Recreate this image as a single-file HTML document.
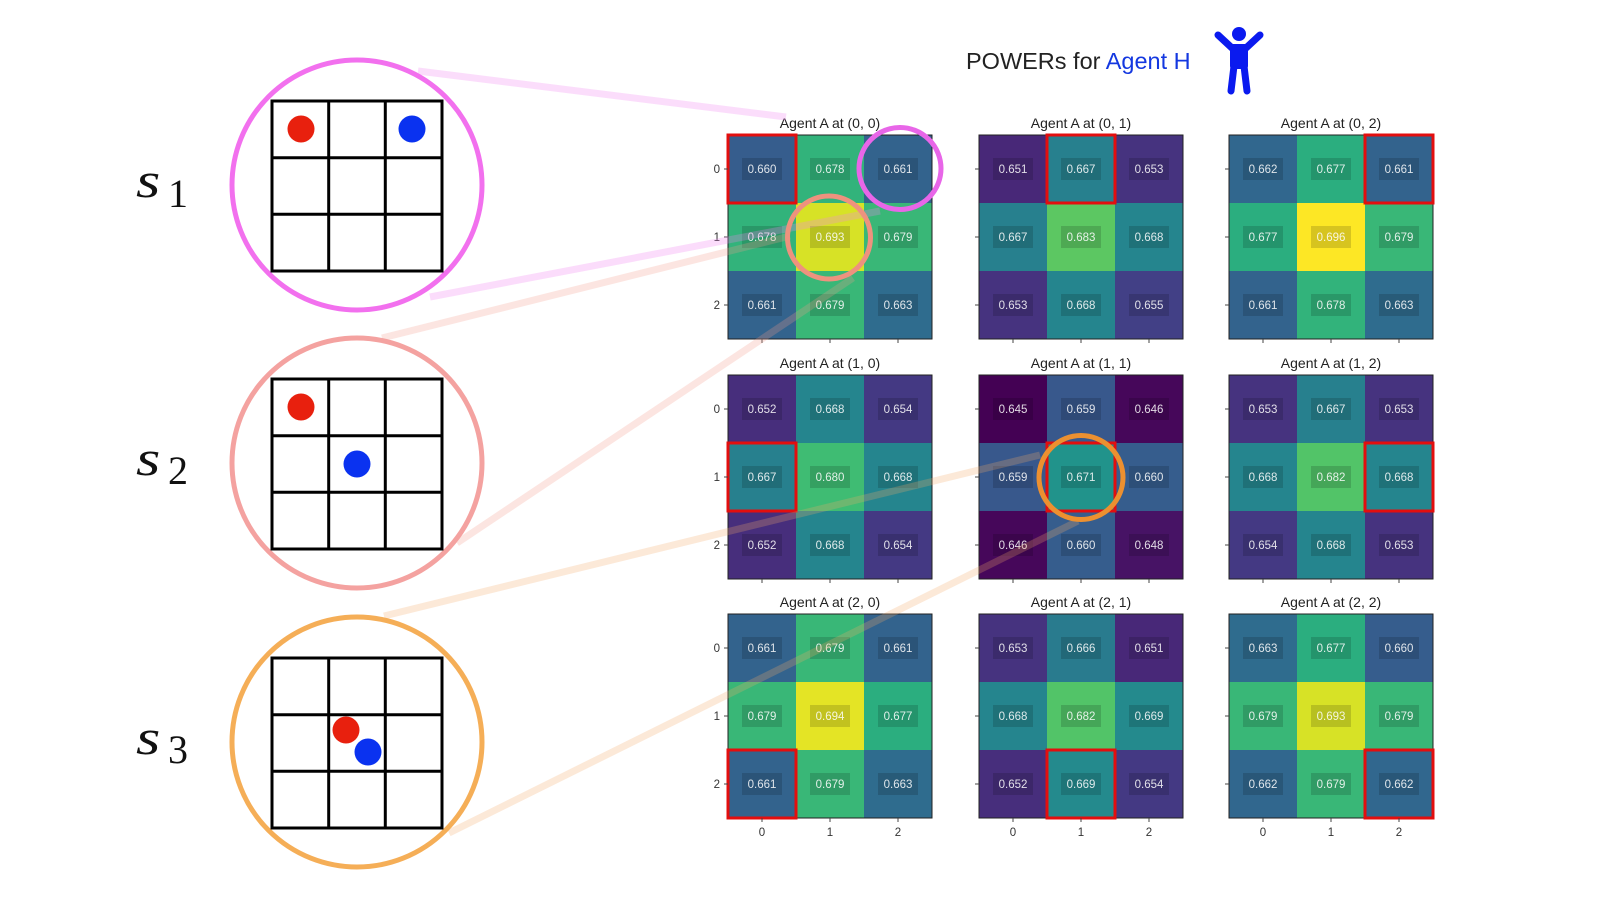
<!DOCTYPE html>
<html>
<head>
<meta charset="utf-8">
<style>
  html, body { margin: 0; padding: 0; background: #ffffff; }
  svg { display: block; }
  .v { font-family: "Liberation Sans", sans-serif; font-size: 11.5px; fill: rgba(255,255,255,0.85); text-anchor: middle; }
  .t { font-family: "Liberation Sans", sans-serif; font-size: 14px; fill: #222; text-anchor: middle; }
  .k { font-family: "Liberation Sans", sans-serif; font-size: 11.5px; fill: #333; }
  .ke { text-anchor: end; }
  .km { text-anchor: middle; }
  .hl { fill: none; stroke: #e30e0e; stroke-width: 3; }
  .bd { fill: none; stroke: #222; stroke-width: 1; }
  .sl { font-family: "Liberation Serif", serif; font-style: italic; fill: #111; }
  .sn { font-family: "Liberation Serif", serif; fill: #111; }
</style>
</head>
<body>
<svg width="1600" height="900" viewBox="0 0 1600 900" xmlns="http://www.w3.org/2000/svg">
  <defs>
    <g id="bx" fill="#000" fill-opacity="0.15">
      <rect x="14" y="23" width="40" height="22"/>
      <rect x="82" y="23" width="40" height="22"/>
      <rect x="150" y="23" width="40" height="22"/>
      <rect x="14" y="91" width="40" height="22"/>
      <rect x="82" y="91" width="40" height="22"/>
      <rect x="150" y="91" width="40" height="22"/>
      <rect x="14" y="159" width="40" height="22"/>
      <rect x="82" y="159" width="40" height="22"/>
      <rect x="150" y="159" width="40" height="22"/>
    </g>
    <g id="tk" stroke="#444" stroke-width="1">
      <line x1="-4" y1="34" x2="0" y2="34"/>
      <line x1="-4" y1="102" x2="0" y2="102"/>
      <line x1="-4" y1="170" x2="0" y2="170"/>
      <line x1="34" y1="204" x2="34" y2="208"/>
      <line x1="102" y1="204" x2="102" y2="208"/>
      <line x1="170" y1="204" x2="170" y2="208"/>
    </g>
  </defs>

  <!-- Title -->
  <text x="966" y="69" font-family="Liberation Sans, sans-serif" font-size="23.5" fill="#222">POWERs for <tspan fill="#1438e0">Agent H</tspan></text>
  <!-- person icon -->
  <g fill="#0a1aef" stroke="#0a1aef">
    <circle cx="1239" cy="34" r="7" stroke="none"/>
    <path d="M1218,35 L1232,48 L1246,48 L1260,35" fill="none" stroke-width="7" stroke-linecap="round" stroke-linejoin="round"/>
    <rect x="1230" y="44" width="18" height="25" rx="3" stroke="none"/>
    <line x1="1234" y1="66" x2="1231" y2="91" stroke-width="7" stroke-linecap="round"/>
    <line x1="1244" y1="66" x2="1247" y2="91" stroke-width="7" stroke-linecap="round"/>
  </g>

  <!-- ===== Heatmaps ===== -->
  <!-- (0,0) -->
  <g transform="translate(728,135)">
    <text class="t" x="102" y="-7">Agent A at (0, 0)</text>
    <rect x="0" y="0" width="68" height="68" fill="#365d8d"/>
    <rect x="68" y="0" width="68" height="68" fill="#32b37b"/>
    <rect x="136" y="0" width="68" height="68" fill="#33638d"/>
    <rect x="0" y="68" width="68" height="68" fill="#32b37b"/>
    <rect x="68" y="68" width="68" height="68" fill="#d7e226"/>
    <rect x="136" y="68" width="68" height="68" fill="#39b777"/>
    <rect x="0" y="136" width="68" height="68" fill="#33638d"/>
    <rect x="68" y="136" width="68" height="68" fill="#39b777"/>
    <rect x="136" y="136" width="68" height="68" fill="#2f6c8e"/>
    <use href="#bx"/>
    <text class="v" x="34" y="38">0.660</text><text class="v" x="102" y="38">0.678</text><text class="v" x="170" y="38">0.661</text>
    <text class="v" x="34" y="106">0.678</text><text class="v" x="102" y="106">0.693</text><text class="v" x="170" y="106">0.679</text>
    <text class="v" x="34" y="174">0.661</text><text class="v" x="102" y="174">0.679</text><text class="v" x="170" y="174">0.663</text>
    <rect class="bd" x="0" y="0" width="204" height="204"/>
    <rect class="hl" x="0" y="0" width="68" height="68"/>
    <use href="#tk"/>
    <text class="k ke" x="-8" y="38">0</text><text class="k ke" x="-8" y="106">1</text><text class="k ke" x="-8" y="174">2</text>
  </g>

  <!-- (0,1) -->
  <g transform="translate(979,135)">
    <text class="t" x="102" y="-7">Agent A at (0, 1)</text>
    <rect x="0" y="0" width="68" height="68" fill="#482878"/>
    <rect x="68" y="0" width="68" height="68" fill="#27808e"/>
    <rect x="136" y="0" width="68" height="68" fill="#46337f"/>
    <rect x="0" y="68" width="68" height="68" fill="#27808e"/>
    <rect x="68" y="68" width="68" height="68" fill="#5cc762"/>
    <rect x="136" y="68" width="68" height="68" fill="#25858e"/>
    <rect x="0" y="136" width="68" height="68" fill="#46337f"/>
    <rect x="68" y="136" width="68" height="68" fill="#25858e"/>
    <rect x="136" y="136" width="68" height="68" fill="#424086"/>
    <use href="#bx"/>
    <text class="v" x="34" y="38">0.651</text><text class="v" x="102" y="38">0.667</text><text class="v" x="170" y="38">0.653</text>
    <text class="v" x="34" y="106">0.667</text><text class="v" x="102" y="106">0.683</text><text class="v" x="170" y="106">0.668</text>
    <text class="v" x="34" y="174">0.653</text><text class="v" x="102" y="174">0.668</text><text class="v" x="170" y="174">0.655</text>
    <rect class="bd" x="0" y="0" width="204" height="204"/>
    <rect class="hl" x="68" y="0" width="68" height="68"/>
    <use href="#tk"/>
  </g>

  <!-- (0,2) -->
  <g transform="translate(1229,135)">
    <text class="t" x="102" y="-7">Agent A at (0, 2)</text>
    <rect x="0" y="0" width="68" height="68" fill="#31678e"/>
    <rect x="68" y="0" width="68" height="68" fill="#2bae7f"/>
    <rect x="136" y="0" width="68" height="68" fill="#33638d"/>
    <rect x="0" y="68" width="68" height="68" fill="#2bae7f"/>
    <rect x="68" y="68" width="68" height="68" fill="#fde725"/>
    <rect x="136" y="68" width="68" height="68" fill="#39b777"/>
    <rect x="0" y="136" width="68" height="68" fill="#33638d"/>
    <rect x="68" y="136" width="68" height="68" fill="#32b37b"/>
    <rect x="136" y="136" width="68" height="68" fill="#2f6c8e"/>
    <use href="#bx"/>
    <text class="v" x="34" y="38">0.662</text><text class="v" x="102" y="38">0.677</text><text class="v" x="170" y="38">0.661</text>
    <text class="v" x="34" y="106">0.677</text><text class="v" x="102" y="106">0.696</text><text class="v" x="170" y="106">0.679</text>
    <text class="v" x="34" y="174">0.661</text><text class="v" x="102" y="174">0.678</text><text class="v" x="170" y="174">0.663</text>
    <rect class="bd" x="0" y="0" width="204" height="204"/>
    <rect class="hl" x="136" y="0" width="68" height="68"/>
    <use href="#tk"/>
  </g>

  <!-- (1,0) -->
  <g transform="translate(728,375)">
    <text class="t" x="102" y="-7">Agent A at (1, 0)</text>
    <rect x="0" y="0" width="68" height="68" fill="#472e7c"/>
    <rect x="68" y="0" width="68" height="68" fill="#25858e"/>
    <rect x="136" y="0" width="68" height="68" fill="#443983"/>
    <rect x="0" y="68" width="68" height="68" fill="#27808e"/>
    <rect x="68" y="68" width="68" height="68" fill="#3fbc73"/>
    <rect x="136" y="68" width="68" height="68" fill="#25858e"/>
    <rect x="0" y="136" width="68" height="68" fill="#472e7c"/>
    <rect x="68" y="136" width="68" height="68" fill="#25858e"/>
    <rect x="136" y="136" width="68" height="68" fill="#443983"/>
    <use href="#bx"/>
    <text class="v" x="34" y="38">0.652</text><text class="v" x="102" y="38">0.668</text><text class="v" x="170" y="38">0.654</text>
    <text class="v" x="34" y="106">0.667</text><text class="v" x="102" y="106">0.680</text><text class="v" x="170" y="106">0.668</text>
    <text class="v" x="34" y="174">0.652</text><text class="v" x="102" y="174">0.668</text><text class="v" x="170" y="174">0.654</text>
    <rect class="bd" x="0" y="0" width="204" height="204"/>
    <rect class="hl" x="0" y="68" width="68" height="68"/>
    <use href="#tk"/>
    <text class="k ke" x="-8" y="38">0</text><text class="k ke" x="-8" y="106">1</text><text class="k ke" x="-8" y="174">2</text>
  </g>

  <!-- (1,1) -->
  <g transform="translate(979,375)">
    <text class="t" x="102" y="-7">Agent A at (1, 1)</text>
    <rect x="0" y="0" width="68" height="68" fill="#440154"/>
    <rect x="68" y="0" width="68" height="68" fill="#38588c"/>
    <rect x="136" y="0" width="68" height="68" fill="#46075a"/>
    <rect x="0" y="68" width="68" height="68" fill="#38588c"/>
    <rect x="68" y="68" width="68" height="68" fill="#21938b"/>
    <rect x="136" y="68" width="68" height="68" fill="#365d8d"/>
    <rect x="0" y="136" width="68" height="68" fill="#46075a"/>
    <rect x="68" y="136" width="68" height="68" fill="#365d8d"/>
    <rect x="136" y="136" width="68" height="68" fill="#471365"/>
    <use href="#bx"/>
    <text class="v" x="34" y="38">0.645</text><text class="v" x="102" y="38">0.659</text><text class="v" x="170" y="38">0.646</text>
    <text class="v" x="34" y="106">0.659</text><text class="v" x="102" y="106">0.671</text><text class="v" x="170" y="106">0.660</text>
    <text class="v" x="34" y="174">0.646</text><text class="v" x="102" y="174">0.660</text><text class="v" x="170" y="174">0.648</text>
    <rect class="bd" x="0" y="0" width="204" height="204"/>
    <rect class="hl" x="68" y="68" width="68" height="68"/>
    <use href="#tk"/>
  </g>

  <!-- (1,2) -->
  <g transform="translate(1229,375)">
    <text class="t" x="102" y="-7">Agent A at (1, 2)</text>
    <rect x="0" y="0" width="68" height="68" fill="#46337f"/>
    <rect x="68" y="0" width="68" height="68" fill="#27808e"/>
    <rect x="136" y="0" width="68" height="68" fill="#46337f"/>
    <rect x="0" y="68" width="68" height="68" fill="#25858e"/>
    <rect x="68" y="68" width="68" height="68" fill="#52c468"/>
    <rect x="136" y="68" width="68" height="68" fill="#25858e"/>
    <rect x="0" y="136" width="68" height="68" fill="#443983"/>
    <rect x="68" y="136" width="68" height="68" fill="#25858e"/>
    <rect x="136" y="136" width="68" height="68" fill="#46337f"/>
    <use href="#bx"/>
    <text class="v" x="34" y="38">0.653</text><text class="v" x="102" y="38">0.667</text><text class="v" x="170" y="38">0.653</text>
    <text class="v" x="34" y="106">0.668</text><text class="v" x="102" y="106">0.682</text><text class="v" x="170" y="106">0.668</text>
    <text class="v" x="34" y="174">0.654</text><text class="v" x="102" y="174">0.668</text><text class="v" x="170" y="174">0.653</text>
    <rect class="bd" x="0" y="0" width="204" height="204"/>
    <rect class="hl" x="136" y="68" width="68" height="68"/>
    <use href="#tk"/>
  </g>

  <!-- (2,0) -->
  <g transform="translate(728,614)">
    <text class="t" x="102" y="-7">Agent A at (2, 0)</text>
    <rect x="0" y="0" width="68" height="68" fill="#33638d"/>
    <rect x="68" y="0" width="68" height="68" fill="#39b777"/>
    <rect x="136" y="0" width="68" height="68" fill="#33638d"/>
    <rect x="0" y="68" width="68" height="68" fill="#39b777"/>
    <rect x="68" y="68" width="68" height="68" fill="#e4e425"/>
    <rect x="136" y="68" width="68" height="68" fill="#2bae7f"/>
    <rect x="0" y="136" width="68" height="68" fill="#33638d"/>
    <rect x="68" y="136" width="68" height="68" fill="#39b777"/>
    <rect x="136" y="136" width="68" height="68" fill="#2f6c8e"/>
    <use href="#bx"/>
    <text class="v" x="34" y="38">0.661</text><text class="v" x="102" y="38">0.679</text><text class="v" x="170" y="38">0.661</text>
    <text class="v" x="34" y="106">0.679</text><text class="v" x="102" y="106">0.694</text><text class="v" x="170" y="106">0.677</text>
    <text class="v" x="34" y="174">0.661</text><text class="v" x="102" y="174">0.679</text><text class="v" x="170" y="174">0.663</text>
    <rect class="bd" x="0" y="0" width="204" height="204"/>
    <rect class="hl" x="0" y="136" width="68" height="68"/>
    <use href="#tk"/>
    <text class="k ke" x="-8" y="38">0</text><text class="k ke" x="-8" y="106">1</text><text class="k ke" x="-8" y="174">2</text>
    <text class="k km" x="34" y="222">0</text><text class="k km" x="102" y="222">1</text><text class="k km" x="170" y="222">2</text>
  </g>

  <!-- (2,1) -->
  <g transform="translate(979,614)">
    <text class="t" x="102" y="-7">Agent A at (2, 1)</text>
    <rect x="0" y="0" width="68" height="68" fill="#46337f"/>
    <rect x="68" y="0" width="68" height="68" fill="#297b8e"/>
    <rect x="136" y="0" width="68" height="68" fill="#482878"/>
    <rect x="0" y="68" width="68" height="68" fill="#25858e"/>
    <rect x="68" y="68" width="68" height="68" fill="#52c468"/>
    <rect x="136" y="68" width="68" height="68" fill="#248a8d"/>
    <rect x="0" y="136" width="68" height="68" fill="#472e7c"/>
    <rect x="68" y="136" width="68" height="68" fill="#248a8d"/>
    <rect x="136" y="136" width="68" height="68" fill="#443983"/>
    <use href="#bx"/>
    <text class="v" x="34" y="38">0.653</text><text class="v" x="102" y="38">0.666</text><text class="v" x="170" y="38">0.651</text>
    <text class="v" x="34" y="106">0.668</text><text class="v" x="102" y="106">0.682</text><text class="v" x="170" y="106">0.669</text>
    <text class="v" x="34" y="174">0.652</text><text class="v" x="102" y="174">0.669</text><text class="v" x="170" y="174">0.654</text>
    <rect class="bd" x="0" y="0" width="204" height="204"/>
    <rect class="hl" x="68" y="136" width="68" height="68"/>
    <use href="#tk"/>
    <text class="k km" x="34" y="222">0</text><text class="k km" x="102" y="222">1</text><text class="k km" x="170" y="222">2</text>
  </g>

  <!-- (2,2) -->
  <g transform="translate(1229,614)">
    <text class="t" x="102" y="-7">Agent A at (2, 2)</text>
    <rect x="0" y="0" width="68" height="68" fill="#2f6c8e"/>
    <rect x="68" y="0" width="68" height="68" fill="#2bae7f"/>
    <rect x="136" y="0" width="68" height="68" fill="#365d8d"/>
    <rect x="0" y="68" width="68" height="68" fill="#39b777"/>
    <rect x="68" y="68" width="68" height="68" fill="#d7e226"/>
    <rect x="136" y="68" width="68" height="68" fill="#39b777"/>
    <rect x="0" y="136" width="68" height="68" fill="#31678e"/>
    <rect x="68" y="136" width="68" height="68" fill="#39b777"/>
    <rect x="136" y="136" width="68" height="68" fill="#31678e"/>
    <use href="#bx"/>
    <text class="v" x="34" y="38">0.663</text><text class="v" x="102" y="38">0.677</text><text class="v" x="170" y="38">0.660</text>
    <text class="v" x="34" y="106">0.679</text><text class="v" x="102" y="106">0.693</text><text class="v" x="170" y="106">0.679</text>
    <text class="v" x="34" y="174">0.662</text><text class="v" x="102" y="174">0.679</text><text class="v" x="170" y="174">0.662</text>
    <rect class="bd" x="0" y="0" width="204" height="204"/>
    <rect class="hl" x="136" y="136" width="68" height="68"/>
    <use href="#tk"/>
    <text class="k km" x="34" y="222">0</text><text class="k km" x="102" y="222">1</text><text class="k km" x="170" y="222">2</text>
  </g>

  <!-- ===== Connector bands ===== -->
  <g stroke-width="7" stroke-linecap="butt" fill="none">
    <line x1="418" y1="71" x2="786" y2="117" stroke="#f080f0" stroke-opacity="0.27"/>
    <line x1="430" y1="297" x2="880" y2="211" stroke="#f080f0" stroke-opacity="0.28"/>
    <line x1="382" y1="338" x2="790" y2="236" stroke="#f29a8a" stroke-opacity="0.26"/>
    <line x1="457" y1="543" x2="853" y2="278" stroke="#f29a8a" stroke-opacity="0.26"/>
    <line x1="384" y1="616" x2="1040" y2="455" stroke="#f5aa6a" stroke-opacity="0.26"/>
    <line x1="449" y1="833" x2="1078" y2="521" stroke="#f5aa6a" stroke-opacity="0.26"/>
  </g>

  <!-- small highlight circles -->
  <circle cx="900" cy="168.5" r="41" fill="none" stroke="#e866e8" stroke-width="5"/>
  <circle cx="829" cy="237.5" r="41.5" fill="none" stroke="#ee927e" stroke-width="5"/>
  <circle cx="1081" cy="477.5" r="42" fill="none" stroke="#ec9030" stroke-width="5"/>

  <!-- ===== State circles ===== -->
  <!-- s1 -->
  <circle cx="357" cy="185" r="125" fill="#fff" stroke="#f270ee" stroke-width="5"/>
  <g stroke="#000" stroke-width="3" fill="none">
    <rect x="272" y="101" width="170" height="170"/>
    <line x1="328.7" y1="101" x2="328.7" y2="271"/>
    <line x1="385.3" y1="101" x2="385.3" y2="271"/>
    <line x1="272" y1="157.7" x2="442" y2="157.7"/>
    <line x1="272" y1="214.3" x2="442" y2="214.3"/>
  </g>
  <circle cx="301" cy="129" r="13.5" fill="#e8200e"/>
  <circle cx="412" cy="129" r="13.5" fill="#0a32f0"/>
  <text class="sl" font-size="50" transform="translate(136,197) scale(1.25,1)">s</text>
  <text class="sn" font-size="40" x="168" y="207">1</text>

  <!-- s2 -->
  <circle cx="357" cy="463" r="125" fill="#fff" stroke="#f4a2a0" stroke-width="5"/>
  <g stroke="#000" stroke-width="3" fill="none">
    <rect x="272" y="379" width="170" height="170"/>
    <line x1="328.7" y1="379" x2="328.7" y2="549"/>
    <line x1="385.3" y1="379" x2="385.3" y2="549"/>
    <line x1="272" y1="435.7" x2="442" y2="435.7"/>
    <line x1="272" y1="492.3" x2="442" y2="492.3"/>
  </g>
  <circle cx="301" cy="407" r="13.5" fill="#e8200e"/>
  <circle cx="357" cy="464" r="13.5" fill="#0a32f0"/>
  <text class="sl" font-size="50" transform="translate(136,475) scale(1.25,1)">s</text>
  <text class="sn" font-size="40" x="168" y="484">2</text>

  <!-- s3 -->
  <circle cx="357" cy="742" r="125" fill="#fff" stroke="#f5ae57" stroke-width="5"/>
  <g stroke="#000" stroke-width="3" fill="none">
    <rect x="272" y="658" width="170" height="170"/>
    <line x1="328.7" y1="658" x2="328.7" y2="828"/>
    <line x1="385.3" y1="658" x2="385.3" y2="828"/>
    <line x1="272" y1="714.7" x2="442" y2="714.7"/>
    <line x1="272" y1="771.3" x2="442" y2="771.3"/>
  </g>
  <circle cx="346" cy="730" r="13.5" fill="#e8200e"/>
  <circle cx="368" cy="752" r="13.5" fill="#0a32f0"/>
  <text class="sl" font-size="50" transform="translate(136,754) scale(1.25,1)">s</text>
  <text class="sn" font-size="40" x="168" y="763">3</text>
</svg>
</body>
</html>
